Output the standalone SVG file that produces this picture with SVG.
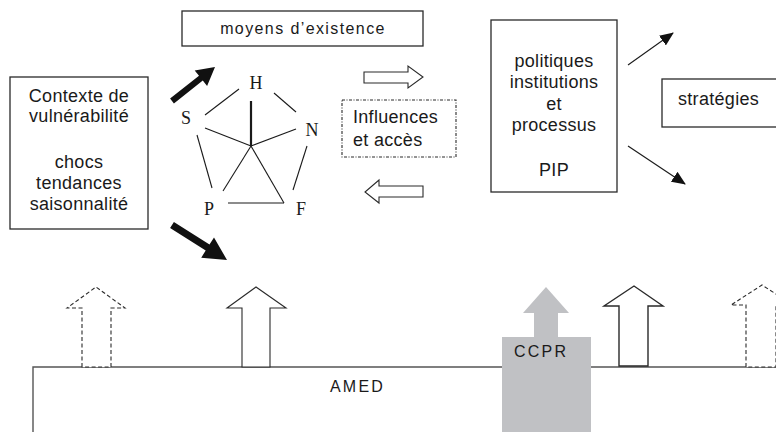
<svg xmlns="http://www.w3.org/2000/svg" width="776" height="432" viewBox="0 0 776 432">
<defs>
<style>
.box{fill:#fff;stroke:#2a2a2a;stroke-width:1.3}
.t{font-family:"Liberation Sans",Arial,sans-serif;font-size:18px;letter-spacing:0.3px;fill:#1a1a1a;text-anchor:middle}
.tl{font-family:"Liberation Sans",Arial,sans-serif;font-size:18px;letter-spacing:0.3px;fill:#1a1a1a}
.s{font-family:"Liberation Serif","Times New Roman",serif;font-size:18px;fill:#1a1a1a;text-anchor:middle}
.ln{stroke:#1a1a1a;stroke-width:1.1;fill:none}
.oa{fill:#fff;stroke:#2a2a2a;stroke-width:1.1}
.da{fill:#fff;stroke:#2a2a2a;stroke-width:1.1;stroke-dasharray:4 2.5}
.thin{stroke:#1a1a1a;stroke-width:1.1;fill:none}
</style>
<marker id="ah" markerUnits="userSpaceOnUse" markerWidth="14" markerHeight="12" refX="13" refY="6" orient="auto" viewBox="0 0 14 12">
<path d="M0,0 L14,6 L0,12 z" fill="#111"/>
</marker>
</defs>
<rect width="776" height="432" fill="#fff"/>

<g id="amed">
<path d="M33,432 L33,367 L776,367" fill="none" stroke="#555" stroke-width="1.4"/>
<text class="tl" x="330" y="392" style="font-size:16px;letter-spacing:2.2px">AMED</text>
</g>

<g id="ccpr">
<rect x="502" y="337" width="89" height="100" fill="#c0c1c4"/>
<polygon points="534,338 534,313 523,313 546,287 569,313 558,313 558,338" fill="#c0c1c4"/>
<text class="tl" x="514" y="357" style="font-size:16px;letter-spacing:2.2px">CCPR</text>
</g>

<g id="contexte">
<rect class="box" x="10" y="77" width="138" height="152"/>
<text class="t" x="79" y="102">Contexte de</text>
<text class="t" x="79" y="122">vulnérabilité</text>
<text class="t" x="79" y="168">chocs</text>
<text class="t" x="79" y="189">tendances</text>
<text class="t" x="79" y="210">saisonnalité</text>
</g>

<g id="moyens">
<rect class="box" x="182" y="11" width="241" height="35"/>
<text class="t" x="303" y="34" style="font-size:16px;letter-spacing:1.4px">moyens d’existence</text>
</g>

<g id="pentagone">
<line class="ln" x1="251" y1="101" x2="251" y2="146" style="stroke-width:2.2"/>
<line class="ln" x1="205" y1="115" x2="239" y2="89"/>
<line class="ln" x1="274" y1="93" x2="296" y2="112"/>
<line class="ln" x1="205" y1="128" x2="251" y2="146"/>
<line class="ln" x1="296" y1="129" x2="251" y2="146"/>
<line class="ln" x1="197" y1="135" x2="212" y2="188"/>
<line class="ln" x1="251" y1="146" x2="223" y2="191"/>
<line class="ln" x1="251" y1="146" x2="284" y2="203"/>
<line class="ln" x1="228" y1="203" x2="284" y2="203"/>
<line class="ln" x1="307" y1="146" x2="293" y2="190"/>
<text class="s" x="256" y="89">H</text>
<text class="s" x="186" y="124">S</text>
<text class="s" x="312" y="136">N</text>
<text class="s" x="209" y="215">P</text>
<text class="s" x="301" y="215">F</text>
</g>

<g id="influences">
<rect x="342" y="100" width="114" height="57" fill="#fff" stroke="#2a2a2a" stroke-width="1.1" stroke-dasharray="3 1.5 1 1.5"/>
<text class="tl" x="353" y="123">Influences</text>
<text class="tl" x="353" y="146">et accès</text>
</g>

<g id="politiques">
<rect class="box" x="491" y="20" width="126" height="172"/>
<text class="t" x="554" y="67">politiques</text>
<text class="t" x="554" y="88">institutions</text>
<text class="t" x="554" y="110">et</text>
<text class="t" x="554" y="131">processus</text>
<text class="t" x="554" y="176">PIP</text>
</g>

<g id="strategies">
<rect class="box" x="662" y="79" width="120" height="48"/>
<text class="tl" x="678" y="105">stratégies</text>
</g>

<g id="connecteurs">
<polygon points="173.9,103.4 202.8,80.6 207.1,86.0 215,67 194.7,70.4 199.0,75.8 170.1,98.6" fill="#111"/>
<polygon points="173.9,222.0 209.5,244.6 214.0,237.5 227,260 201.2,257.7 205.7,250.6 170.1,228.0" fill="#111"/>
<polygon class="oa" points="364,72 408,72 408,66 423,77 408,88 408,83 364,83"/>
<polygon class="oa" points="423,186 379,186 379,180 365,192 379,203 379,197 423,197"/>
<line class="thin" x1="628" y1="65" x2="673" y2="33" marker-end="url(#ah)"/>
<line class="thin" x1="628" y1="146" x2="685" y2="184" marker-end="url(#ah)"/>
<polygon class="da" points="82,367 82,308 67,308 96,287 125,308 111,308 111,367"/>
<polygon class="oa" points="242,367 242,308 227,308 256,287 286,308 270,308 270,367"/>
<polygon class="oa" points="619,366 619,306 604,306 634,286 663,306 648,306 648,366" style="stroke-width:1.4"/>
<polygon class="da" points="746,367 746,305 731,305 762,285 793,305 776,305 776,367"/>
</g>
</svg>
